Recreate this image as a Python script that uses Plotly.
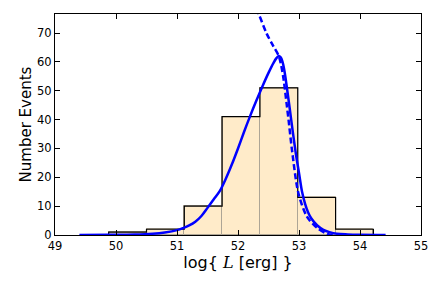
import plotly.graph_objects as go

# Histogram data
bin_edges = [49.88, 50.50, 51.12, 51.74, 52.36, 52.98, 53.60, 54.22]
counts = [1, 2, 10, 41, 51, 13, 2]

# Solid model curve
solid_x = [49.4, 49.9, 50.3, 50.6, 50.8, 51.0, 51.1, 51.2, 51.3, 51.4, 51.5, 51.6, 51.7, 51.8,
           51.9, 52.0, 52.1, 52.2, 52.3, 52.4, 52.5, 52.58, 52.63, 52.665, 52.70, 52.73,
           52.76, 52.80, 52.85, 52.90, 52.95, 53.0, 53.05, 53.1, 53.15, 53.2, 53.3, 53.4,
           53.5, 53.62, 53.8, 54.0, 54.42]
solid_y = [0.0, 0.05, 0.15, 0.45, 0.9, 1.7, 2.4, 3.3, 4.6, 6.6, 9.4, 12.3, 15.2, 19.5,
           24.5, 30.0, 35.8, 41.3, 46.5, 51.5, 56.2, 59.6, 61.3, 62.0, 61.6, 60.0,
           57.0, 51.3, 43.5, 35.5, 28.0, 21.5, 15.0, 10.8, 7.8, 5.8, 3.3, 1.8,
           1.0, 0.45, 0.2, 0.08, 0.0]

# Dashed model curve
dash_x = [52.30, 52.34, 52.47, 52.57, 52.665, 52.71, 52.75, 52.80, 52.83, 52.885, 52.99, 53.13, 53.30, 53.46, 53.56]
dash_y = [78.5, 76.6, 69.8, 65.8, 62.2, 58.6, 53.6, 45.0, 39.7, 29.5, 14.5, 6.4, 2.4, 0.4, 0.0]

x_ticks = [49, 50, 51, 52, 53, 54, 55]
y_ticks = [0, 10, 20, 30, 40, 50, 60, 70]

centers = [(bin_edges[i] + bin_edges[i + 1]) / 2 for i in range(len(counts))]
widths = [bin_edges[i + 1] - bin_edges[i] for i in range(len(counts))]

# outline of histogram (step)
ox, oy = [bin_edges[0]], [0]
for i, c in enumerate(counts):
    ox += [bin_edges[i], bin_edges[i + 1]]
    oy += [c, c]
ox.append(bin_edges[-1])
oy.append(0)

fig = go.Figure()
fig.add_trace(go.Bar(x=centers, y=counts, width=widths,
                     marker=dict(color="#FFEBC9", line=dict(color="#ADA596", width=1)),
                     hoverinfo="skip"))
fig.add_trace(go.Scatter(x=ox, y=oy, mode="lines",
                         line=dict(color="black", width=1.2), hoverinfo="skip"))
fig.add_trace(go.Scatter(x=solid_x, y=solid_y, mode="lines",
                         line=dict(color="#0000FF", width=2.5, shape="spline", smoothing=1.0)))
fig.add_trace(go.Scatter(x=dash_x, y=dash_y, mode="lines",
                         line=dict(color="#0000FF", width=2.5, dash="6px,3px", shape="spline", smoothing=0.8)))

axis_common = dict(showline=True, linecolor="black", linewidth=1, mirror="ticks",
                   ticks="inside", ticklen=5, tickcolor="black", tickwidth=1,
                   showgrid=False, zeroline=False,
                   tickfont=dict(family="DejaVu Sans", size=11.5, color="black"))

# page body has an 8px margin; the figure is shrunk and left/top margins shifted to compensate
fig.update_layout(
    width=435, height=287,
    margin=dict(l=47, r=22, t=6, b=60),
    paper_bgcolor="white", plot_bgcolor="white",
    showlegend=False, bargap=0,
    font=dict(family="DejaVu Sans", color="black"),
    xaxis=dict(range=[49, 55], tickvals=x_ticks, ticktext=[str(t) for t in x_ticks],
               title=dict(text='log{ <span style="font-family:DejaVu Serif"><i>L</i></span> [erg] }',
                          font=dict(size=16, family="DejaVu Sans"), standoff=4),
               **axis_common),
    yaxis=dict(range=[0, 76.6], tickvals=y_ticks, ticktext=[str(t) for t in y_ticks],
               title=dict(text="Number Events", font=dict(size=15, family="DejaVu Sans"), standoff=1),
               **axis_common),
)

fig.write_html("out.html")
